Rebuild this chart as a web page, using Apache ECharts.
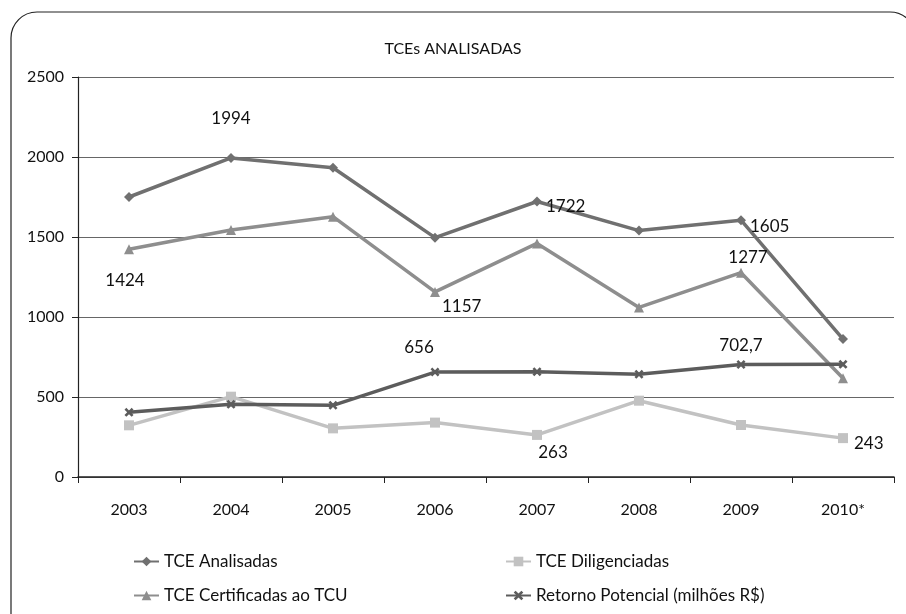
<!DOCTYPE html>
<html>
<head>
<meta charset="utf-8">
<script src="https://cdn.jsdelivr.net/npm/echarts@6/dist/echarts.min.js"></script>
<style>
	html, body { margin: 0; padding: 0; background: #fff; }
	#chartDom { width: 906px; height: 614px; }
</style>
</head>
<body>
<div id="chartDom"></div>
<script>
var years = ['2003', '2004', '2005', '2006', '2007', '2008', '2009', '2010*'];
var analisadas = [1750, 1994, 1933, 1496, 1722, 1540, 1605, 862];
var certificadas = [1424, 1544, 1627, 1157, 1460, 1060, 1277, 617];
var diligenciadas = [323, 502, 304, 340, 263, 477, 325, 243];
var retorno = [404, 454, 448, 656, 658, 642, 702.7, 704];

lineChart();

function lineChart() {
	var dom = document.getElementById("chartDom");
	var myChart = echarts.init(dom);
	var font = 'Lato';
	var xMark = 'path://M2,0L5,3L8,0L10,2L7,5L10,8L8,10L5,7L2,10L0,8L3,5L0,2Z';

	// only some points carry a value label, each with its own placement
	function withLabels(values, labels) {
		return values.map(function(v, i) {
			if (!labels[i]) return v;
			var l = labels[i];
			return {
				value: v,
				label: {
					show: true,
					position: l.pos,
					distance: l.dist || 5,
					offset: l.off || [0, 0]
				}
			};
		});
	}

	function makeSeries(name, values, color, symbol, size, labels) {
		return {
			name: name,
			type: 'line',
			data: withLabels(values, labels),
			symbol: symbol,
			symbolSize: size,
			showAllSymbol: true,
			lineStyle: { color: color, width: 3.5 },
			itemStyle: { color: color },
			label: {
				color: '#111',
				fontSize: 17,
				fontFamily: font,
				formatter: function(p) {
					return String(p.value).replace('.', ',');
				}
			},
			emphasis: { disabled: true },
			animation: false
		};
	}

	var legendText = { color: '#111', fontSize: 17, fontFamily: font };

	var option = {
		title: {
			text: 'TCEs ANALISADAS',
			left: 'center',
			top: 36,
			textStyle: {
				color: '#111',
				fontSize: 16,
				fontWeight: 'normal',
				fontFamily: font
			}
		},
		graphic: [{
			type: 'rect',
			shape: { x: 11, y: 12, width: 905, height: 640, r: 26 },
			style: { fill: 'none', stroke: '#222', lineWidth: 1.2 },
			silent: true
		}],
		legend: [{
			orient: 'vertical',
			left: 128,
			top: 548,
			itemGap: 17,
			itemWidth: 25,
			itemHeight: 12,
			textStyle: legendText,
			data: ['TCE Analisadas', 'TCE Certificadas ao TCU']
		}, {
			orient: 'vertical',
			left: 500,
			top: 548,
			itemGap: 17,
			itemWidth: 25,
			itemHeight: 12,
			textStyle: legendText,
			data: ['TCE Diligenciadas', 'Retorno Potencial (milhões R$)']
		}],
		grid: {
			left: 78,
			right: 12,
			top: 77,
			bottom: 137
		},
		xAxis: {
			type: 'category',
			data: years,
			boundaryGap: true,
			axisLine: { lineStyle: { color: '#222', width: 1.5 } },
			axisTick: { show: true, length: 6, lineStyle: { color: '#222' } },
			axisLabel: {
				color: '#111',
				fontSize: 16,
				fontFamily: font,
				margin: 25
			}
		},
		yAxis: {
			type: 'value',
			min: 0,
			max: 2500,
			interval: 500,
			axisLine: { show: true, lineStyle: { color: '#222', width: 1.2 } },
			axisTick: { show: true, length: 6, lineStyle: { color: '#222' } },
			splitLine: { lineStyle: { color: '#666', width: 1.2 } },
			axisLabel: {
				color: '#111',
				fontSize: 16,
				fontFamily: font,
				margin: 14,
				formatter: function(v) { return String(v); }
			}
		},
		series: [
			makeSeries('TCE Analisadas', analisadas, '#707070', 'diamond', 10, {
				1: { pos: 'top', dist: 26 },
				4: { pos: 'right', dist: 4, off: [0, 5] },
				6: { pos: 'right', dist: 4, off: [0, 6] }
			}),
			makeSeries('TCE Diligenciadas', diligenciadas, '#c2c2c2', 'rect', 10, {
				4: { pos: 'bottom', dist: 4, off: [16, 0] },
				7: { pos: 'right', dist: 6, off: [0, 5] }
			}),
			makeSeries('TCE Certificadas ao TCU', certificadas, '#8e8e8e', 'triangle', 10, {
				0: { pos: 'bottom', dist: 18, off: [-4, 0] },
				3: { pos: 'right', dist: 2, off: [0, 15] },
				6: { pos: 'top', dist: 2, off: [7, 0] }
			}),
			makeSeries('Retorno Potencial (milhões R$)', retorno, '#5c5c5c', xMark, 9, {
				3: { pos: 'top', dist: 12, off: [-16, 0] },
				6: { pos: 'top', dist: 6 }
			})
		]
	};
	myChart.setOption(option, true);
}
</script>
</body>
</html>
